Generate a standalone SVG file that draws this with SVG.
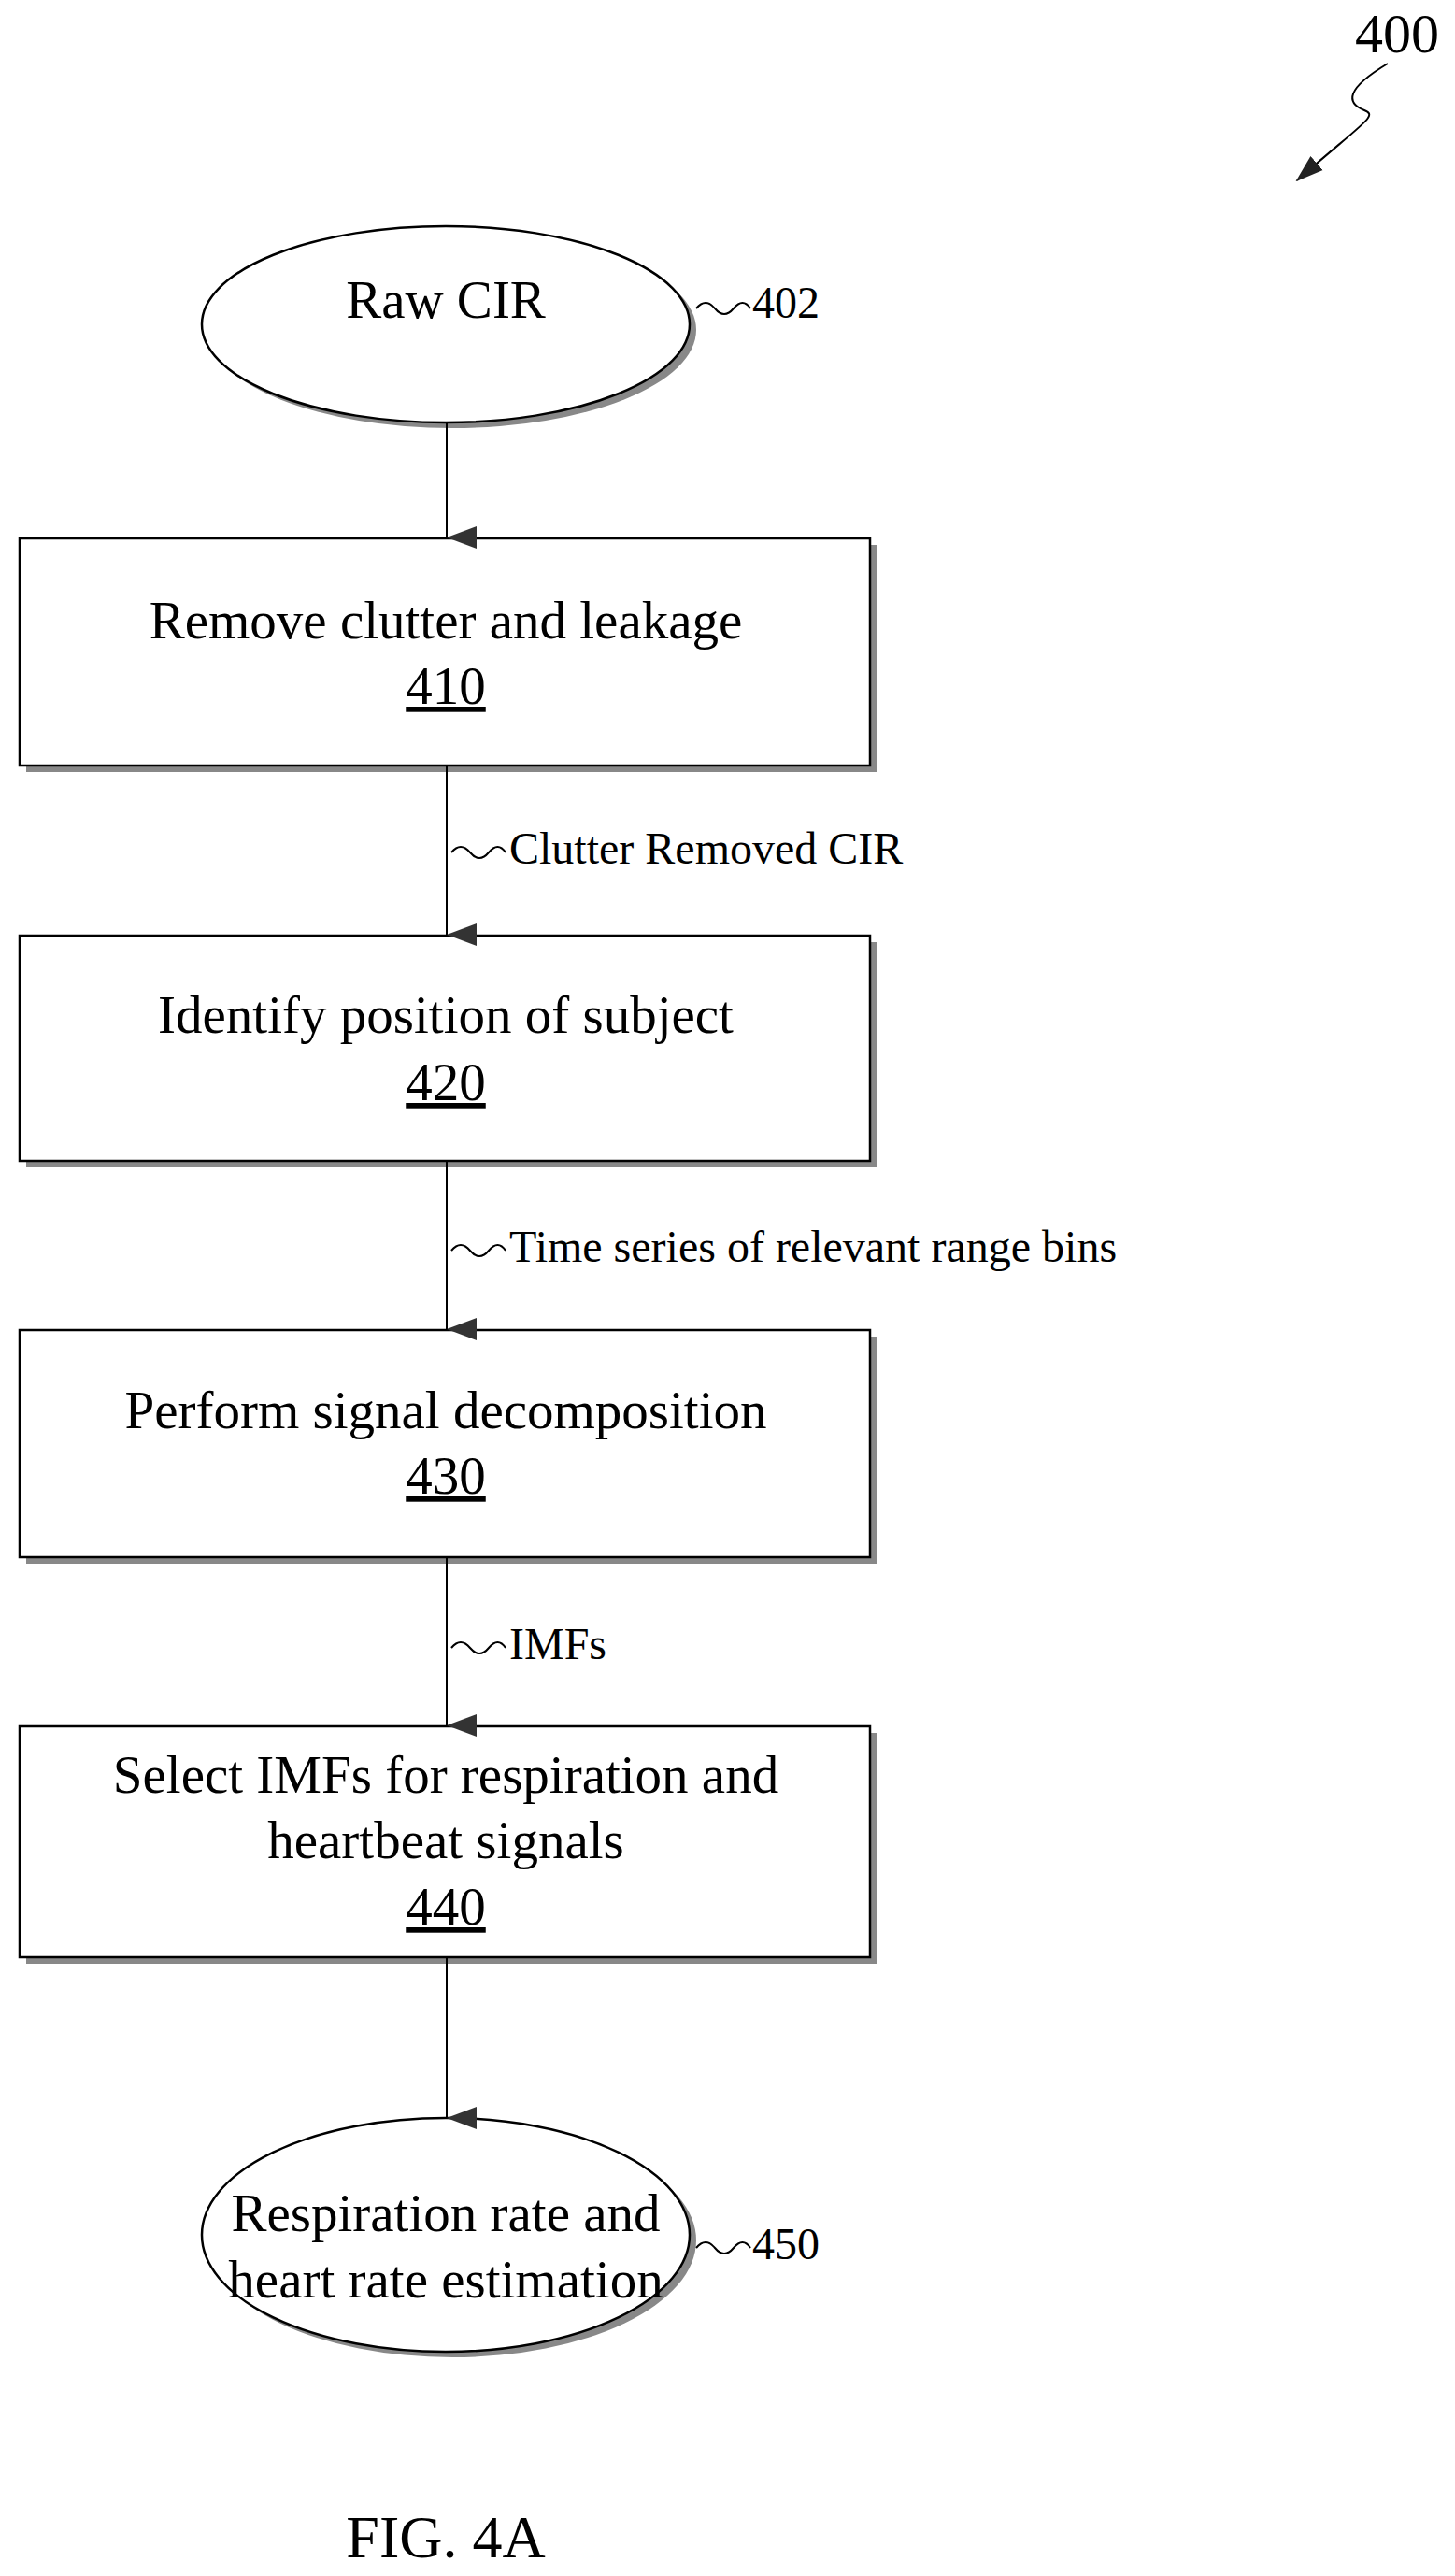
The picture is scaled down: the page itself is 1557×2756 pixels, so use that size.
<svg xmlns="http://www.w3.org/2000/svg" width="1557" height="2756" viewBox="0 0 1557 2756">
<style>
text{font-family:"Liberation Serif","Times New Roman",serif;fill:#000}
.t{font-size:57px;text-anchor:middle}
.l{font-size:48px}
.box{fill:#fff;stroke:#000;stroke-width:2.5}
.sh{fill:#888}
.c{stroke:#000;stroke-width:2;fill:none}
</style>
<defs>
<marker id="ah" markerWidth="24" markerHeight="32" refX="12" refY="32" orient="auto" markerUnits="userSpaceOnUse" viewBox="0 0 24 32">
<path d="M0,0 L24,0 L12,32 Z" fill="#333"/>
</marker>
<marker id="ah2" markerWidth="30" markerHeight="30" refX="28" refY="10" orient="auto" markerUnits="userSpaceOnUse" viewBox="0 0 30 20">
<path d="M0,0 L30,10 L0,20 Z" fill="#222"/>
</marker>
</defs>
<rect width="1557" height="2756" fill="#fff"/>
<g id="n402">
<ellipse class="sh" cx="484" cy="353" rx="261" ry="105"/>
<ellipse class="box" cx="477" cy="347" rx="261" ry="105"/>
<text class="t" x="477" y="340">Raw CIR</text>
<path class="c" d="M745,330 q10,-12 20,0 t20,0 t18,0"/>
<text class="l" x="805" y="340">402</text>
</g>
<g id="n410">
<rect class="sh" x="28" y="583" width="910" height="243"/>
<rect class="box" x="21" y="576" width="910" height="243"/>
<text class="t" x="477" y="683">Remove clutter and leakage</text>
<text class="t" x="477" y="753" text-decoration="underline">410</text>
</g>
<g id="n420">
<rect class="sh" x="28" y="1008" width="910" height="241"/>
<rect class="box" x="21" y="1001" width="910" height="241"/>
<text class="t" x="477" y="1105">Identify position of subject</text>
<text class="t" x="477" y="1177" text-decoration="underline">420</text>
</g>
<g id="n430">
<rect class="sh" x="28" y="1430" width="910" height="243"/>
<rect class="box" x="21" y="1423" width="910" height="243"/>
<text class="t" x="477" y="1528">Perform signal decomposition</text>
<text class="t" x="477" y="1598" text-decoration="underline">430</text>
</g>
<g id="n440">
<rect class="sh" x="28" y="1854" width="910" height="247"/>
<rect class="box" x="21" y="1847" width="910" height="247"/>
<text class="t" x="477" y="1918">Select IMFs for respiration and</text>
<text class="t" x="477" y="1988">heartbeat signals</text>
<text class="t" x="477" y="2059" text-decoration="underline">440</text>
</g>
<g id="n450">
<ellipse class="sh" cx="484" cy="2397" rx="261" ry="125"/>
<ellipse class="box" cx="477" cy="2391" rx="261" ry="125"/>
<text class="t" x="477" y="2387">Respiration rate and</text>
<text class="t" x="477" y="2458">heart rate estimation</text>
<path class="c" d="M745,2405 q10,-12 20,0 t20,0 t18,0"/>
<text class="l" x="805" y="2417">450</text>
</g>
<g id="connectors">
<line class="c" x1="478" y1="452" x2="478" y2="575" marker-end="url(#ah)"/>
<line class="c" x1="478" y1="819" x2="478" y2="1000" marker-end="url(#ah)"/>
<line class="c" x1="478" y1="1242" x2="478" y2="1422" marker-end="url(#ah)"/>
<line class="c" x1="478" y1="1666" x2="478" y2="1846" marker-end="url(#ah)"/>
<line class="c" x1="478" y1="2094" x2="478" y2="2266" marker-end="url(#ah)"/>
<path class="c" d="M483,912 q10,-12 20,0 t20,0 t18,0"/>
<text class="l" x="545" y="924">Clutter Removed CIR</text>
<path class="c" d="M483,1338 q10,-12 20,0 t20,0 t18,0"/>
<text class="l" x="545" y="1350">Time series of relevant range bins</text>
<path class="c" d="M483,1763 q10,-12 20,0 t20,0 t18,0"/>
<text class="l" x="545" y="1775">IMFs</text>
<path class="c" d="M1485,68 C1440,95 1440,110 1460,118 C1475,124 1460,130 1388,193" marker-end="url(#ah2)"/>
</g>
<text x="1450" y="56" font-size="60">400</text>
<text x="477" y="2736" font-size="64" text-anchor="middle">FIG. 4A</text>
</svg>
